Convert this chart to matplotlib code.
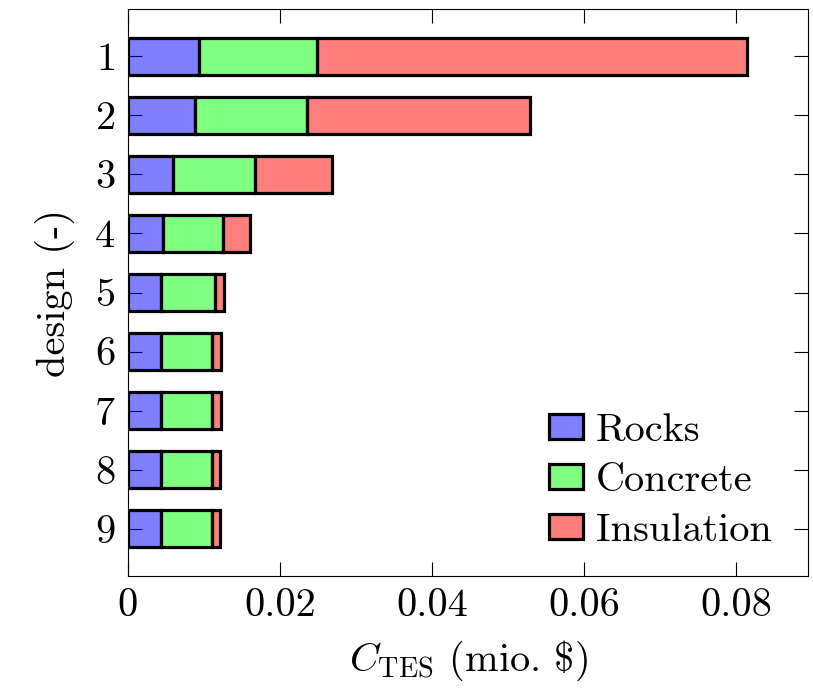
import numpy as np
import matplotlib
matplotlib.use("Agg")
import matplotlib.pyplot as plt

plt.rcParams["font.family"] = "cmr10"
plt.rcParams["mathtext.fontset"] = "cm"
plt.rcParams["axes.formatter.use_mathtext"] = True

designs = [1, 2, 3, 4, 5, 6, 7, 8, 9]
rocks = [0.0093, 0.0088, 0.0059, 0.0046, 0.0043, 0.0044, 0.0044, 0.0044, 0.0044]
concrete = [0.0156, 0.0147, 0.0108, 0.0079, 0.0071, 0.0066, 0.0066, 0.0066, 0.0066]
insulation = [0.0565, 0.0294, 0.0101, 0.0035, 0.0012, 0.0012, 0.0012, 0.0011, 0.0011]

labels = ["Rocks", "Concrete", "Insulation"]
colors = [(0, 0, 1, 0.5), (0, 1, 0, 0.5), (1, 0, 0, 0.5)]

fig = plt.figure(figsize=(8.13, 6.88), dpi=100)
ax = fig.add_axes([0.1574, 0.1628, 0.8364, 0.8241])

left = np.zeros(len(designs))
for vals, lab, col in zip([rocks, concrete, insulation], labels, colors):
    ax.barh(designs, vals, left=left, height=0.62, color=col,
            edgecolor="black", linewidth=2.3, label=lab, zorder=3)
    left += np.array(vals)

ax.set_xlim(0, 0.0894)
ax.set_ylim(9.8, 0.2)
ax.set_xticks([0, 0.02, 0.04, 0.06, 0.08])
ax.set_xticklabels(["0", "0.02", "0.04", "0.06", "0.08"])
ax.set_yticks(designs)
ax.tick_params(direction="in", length=10, width=0.8, labelsize=29,
               top=True, right=True, pad=9)

ax.set_xlabel(r"$C_{\mathrm{TES}}$ (mio. \$)", fontsize=29, labelpad=10)
ax.set_ylabel("design (-)", fontsize=29, labelpad=14)

ax.legend(loc="lower right", frameon=False, fontsize=29,
          handlelength=0.85, handleheight=0.6, handletextpad=0.3,
          labelspacing=0.35, borderaxespad=0.0, bbox_to_anchor=(0.97, 0.02))

fig.savefig("out.png", dpi=100)
